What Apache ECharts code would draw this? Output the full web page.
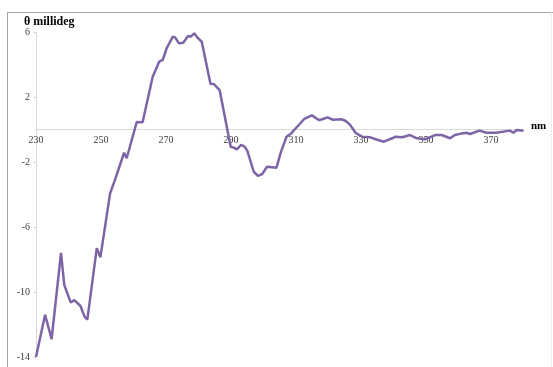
<!DOCTYPE html>
<html>
<head>
<meta charset="utf-8">
<script src="https://cdn.jsdelivr.net/npm/echarts@6/dist/echarts.min.js"></script>
<style>
html,body{margin:0;padding:0;background:#fff;}
#chart{width:553px;height:367px;}
</style>
</head>
<body>
<div id="chart"></div>
<script>
const wavelengths = [230,232.8,234.8,237.7,238.7,240.7,241.8,243.7,244.9,245.8,248.7,249.8,252.8,254.3,257.1,257.9,261,262.8,265.9,267.9,269,270.2,272.1,272.8,274,275.3,275.8,276.8,277.6,278.7,279.6,281,283.7,284.7,286.5,289.9,290.7,291.8,293.1,294.2,295,297,298.3,299.6,301.1,304,305.4,307.1,308.5,310.5,312.6,314.9,317,318.1,319.7,321.4,323.9,325.2,326.6,328.3,330.3,332.9,334.5,337,339.6,340.6,342.7,345.1,347.2,349.8,352.8,354.8,357.4,358.9,361,362.5,363.5,366.5,368.6,371.6,375.8,376.9,377.9,380];
const cdValues = [-14.0,-11.4,-12.9,-7.6,-9.57,-10.65,-10.5,-10.86,-11.5,-11.7,-7.3,-7.87,-3.93,-3.1,-1.43,-1.77,0.46,0.45,3.25,4.17,4.28,5.0,5.71,5.67,5.3,5.34,5.34,5.75,5.71,5.92,5.67,5.4,2.8,2.8,2.43,-1.06,-1.1,-1.22,-0.95,-1.06,-1.3,-2.6,-2.86,-2.74,-2.29,-2.35,-1.36,-0.44,-0.24,0.2,0.66,0.87,0.58,0.63,0.75,0.6,0.63,0.54,0.3,-0.2,-0.44,-0.48,-0.6,-0.75,-0.54,-0.44,-0.48,-0.34,-0.54,-0.6,-0.34,-0.34,-0.54,-0.34,-0.24,-0.2,-0.28,-0.07,-0.2,-0.2,-0.07,-0.2,-0.03,-0.07];
const xTicks = [230,250,270,290,310,330,350,370];
const yTicks = [-14,-10,-6,-2,2,6];
const yTitle = 'θ millideg';
const xTitle = 'nm';

const yMin = -14, yMax = 6;
const gridTop = 32, gridBottom = 10, chartH = 367;
const plotH = chartH - gridTop - gridBottom;
const zeroOffset = -(plotH * (0 - yMin) / (yMax - yMin));

const chart = echarts.init(document.getElementById('chart'), null, {renderer:'canvas'});
const labelFont = {fontFamily:'Liberation Serif', fontSize:10, color:'#404040'};
chart.setOption({
  animation:false,
  backgroundColor:'#fff',
  grid:{left:36, right:29.5, top:gridTop, bottom:gridBottom, containLabel:false, outerBoundsMode:'none'},
  xAxis:{
    type:'value', min:230, max:380, position:'bottom', offset:zeroOffset,
    axisLine:{onZero:false, lineStyle:{color:'#d9d9d9', width:1}},
    axisTick:{show:false},
    splitLine:{show:false},
    axisLabel:Object.assign({customValues:xTicks, margin:6}, labelFont)
  },
  yAxis:{
    type:'value', min:yMin, max:yMax,
    axisLine:{show:true, lineStyle:{color:'#d9d9d9', width:1}},
    axisTick:{show:true, customValues:yTicks, length:3, lineStyle:{color:'#d9d9d9'}},
    splitLine:{show:false},
    axisLabel:Object.assign({customValues:yTicks, margin:6}, labelFont)
  },
  series:[{
    type:'line',
    data:wavelengths.map((w,i)=>[w,cdValues[i]]),
    showSymbol:false, symbol:'none', smooth:false,
    lineStyle:{color:'#7e64a6', width:2.5},
    z:3
  }],
  graphic:[
    {type:'line', shape:{x1:7,y1:12.5,x2:553,y2:12.5}, style:{stroke:'#a6a6a6', lineWidth:1}},
    {type:'line', shape:{x1:7.5,y1:12,x2:7.5,y2:367}, style:{stroke:'#a6a6a6', lineWidth:1}},
    {type:'line', shape:{x1:551.5,y1:12,x2:551.5,y2:367}, style:{stroke:'#ececec', lineWidth:1}},
    {type:'text', left:24, top:16, style:{text:yTitle, font:'bold 12px "Liberation Serif"', fill:'#000'}},
    {type:'text', left:531, top:121, style:{text:xTitle, font:'bold 11px "Liberation Serif"', fill:'#000'}}
  ]
});
</script>
</body>
</html>
